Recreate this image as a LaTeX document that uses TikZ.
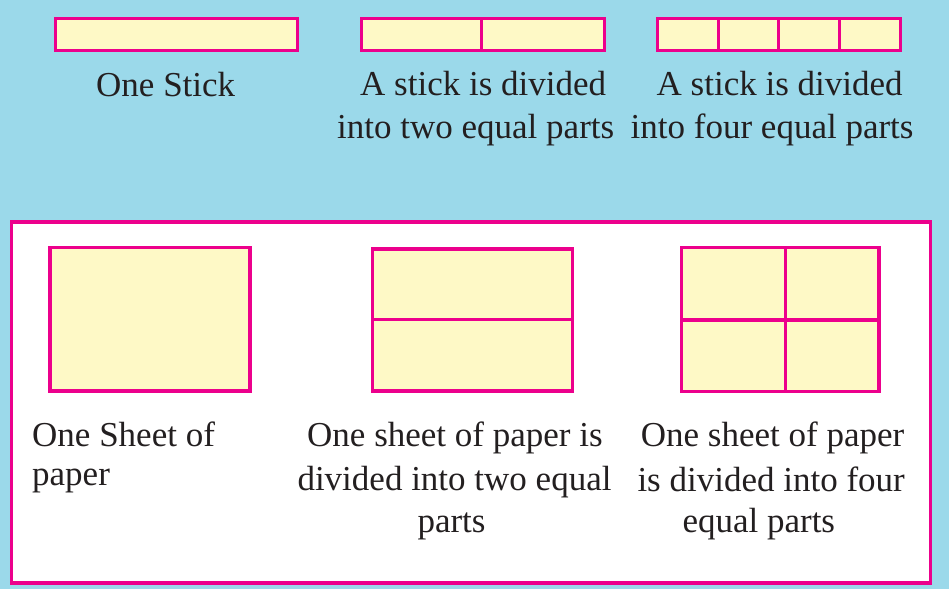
\documentclass[tikz,border=0pt]{standalone}
\usepackage{fontspec}
\setmainfont{Liberation Serif}
\definecolor{bg}{RGB}{155,217,234}
\definecolor{mag}{RGB}{236,0,140}
\definecolor{cream}{RGB}{254,249,198}
\definecolor{ink}{RGB}{35,31,32}
\begin{document}
\begin{tikzpicture}[x=1pt,y=-1pt,
  box/.style={draw=mag, fill=cream, line width=3.2pt},
  divline/.style={draw=mag, line width=3.2pt},
  panel/.style={draw=mag, fill=white, line width=3.5pt},
  lbl/.style={anchor=base west, inner sep=0pt, text=ink, font=\fontsize{35}{43}\selectfont}]
\fill[bg] (0,0) rectangle (949,589);
\useasboundingbox (0,0) rectangle (949,589);

% sticks
\draw[box] (55.5,18.5) rectangle (297.8,50.2);
\draw[box] (361.5,18.5) rectangle (604.5,50.2);
\draw[divline] (481.7,18.5) -- (481.7,50.2);
\draw[box] (657.5,18.5) rectangle (900.2,50.2);
\foreach \xx in {718.2,778.8,839.5}{\draw[divline] (\xx,18.5) -- (\xx,50.2);}

\node[lbl] (s1) at (96,96) {One Stick};
\node[lbl] (s2a) at (360,95) {A stick is divided};
\node[lbl] (s2b) at (337,138.3) {into two equal parts};
\node[lbl] (s3a) at (656.5,95) {A stick is divided};
\node[lbl] (s3b) at (630.5,138.3) {into four equal parts};

% panel
\draw[panel] (11.3,222) rectangle (930.5,583);

% sheets
\draw[box] (50,247.7) rectangle (250,391);
\draw[box] (372.7,249) rectangle (572.3,391);
\draw[divline] (372.7,319.3) -- (572.3,319.3);
\draw[box] (681.7,247.7) rectangle (879,391.6);
\draw[divline] (785.3,247.7) -- (785.3,391.6);
\draw[divline] (681.7,320) -- (879,320);

\node[lbl] (p1a) at (32,446) {One Sheet of};
\node[lbl] (p1b) at (32,485) {paper};
\node[lbl] (p2a) at (307,446) {One sheet of paper is};
\node[lbl] (p2b) at (297.3,490) {divided into two equal};
\node[lbl] (p2c) at (417.3,532) {parts};
\node[lbl] (p3a) at (640.7,446) {One sheet of paper};
\node[lbl] (p3b) at (637.3,491) {is divided into four};
\node[lbl] (p3c) at (682.3,532) {equal parts};
\end{tikzpicture}
\end{document}
